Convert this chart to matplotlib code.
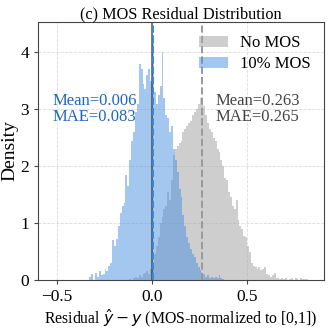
import numpy as np
import matplotlib
matplotlib.use("Agg")
from matplotlib import pyplot as plt

# histogram densities, bin width 0.01
bin_width = 0.01

blue_start = -0.33
blue_density = [
    0.05, 0.10, 0.00, 0.12, 0.05, 0.15, 0.08, 0.10, 0.20, 0.15,
    0.25, 0.30, 0.70, 0.60, 0.72, 0.95, 1.17, 1.30, 1.35, 1.84,
    1.65, 2.10, 2.45, 2.60, 2.95, 3.10, 3.80, 3.70, 3.45, 3.35,
    3.60, 3.70, 3.50, 4.30, 3.30, 3.10, 3.25, 3.40, 4.00, 3.20,
    2.90, 2.85, 2.60, 2.70, 2.30, 2.10, 1.90, 1.60, 1.45, 1.15,
    0.95, 0.75, 0.65, 0.55, 0.45, 0.40, 0.30, 0.22, 0.18, 0.10,
    0.10, 0.06, 0.08, 0.04, 0.05, 0.03, 0.05, 0.03, 0.08, 0.03,
    0.02,
]

gray_start = -0.12
gray_density = [
    0.02, 0.00, 0.03, 0.05, 0.03, 0.08, 0.05, 0.10, 0.12, 0.15,
    0.10, 0.20, 0.30, 0.45, 0.60, 0.75, 1.00, 1.10, 1.25, 1.30,
    1.55, 1.40, 1.75, 2.20, 2.30, 2.35, 2.40, 2.45, 2.60, 2.65,
    2.70, 2.75, 2.80, 2.90, 2.95, 3.00, 3.10, 3.20, 3.15, 3.05,
    2.90, 2.75, 2.65, 2.60, 2.50, 2.45, 2.30, 2.25, 2.10, 2.00,
    1.80, 1.75, 1.55, 1.45, 1.30, 1.25, 1.40, 1.05, 0.95, 0.90,
    0.78, 0.75, 0.60, 0.50, 0.30, 0.25, 0.22, 0.20, 0.22, 0.18,
    0.20, 0.22, 0.10, 0.08, 0.05, 0.08, 0.12, 0.04, 0.03, 0.02,
    0.03, 0.02, 0.03, 0.00, 0.02, 0.03, 0.00, 0.03, 0.02, 0.00,
    0.03, 0.02, 0.02, 0.01,
]

labels = ["No MOS", "10% MOS"]
means = [0.263, 0.006]
maes = [0.265, 0.083]

plt.rcParams["font.family"] = ["Liberation Serif", "DejaVu Serif"]

fig = plt.figure(figsize=(3.29, 3.30), dpi=100)
ax = fig.add_axes([0.1155, 0.1515, 0.8695, 0.7815])

gray_edges = gray_start + bin_width * np.arange(len(gray_density))
blue_edges = blue_start + bin_width * np.arange(len(blue_density))

ax.bar(gray_edges, gray_density, width=bin_width, align="edge",
       color="#a6a6a6", alpha=0.55, linewidth=0, label=labels[0])
ax.bar(blue_edges, blue_density, width=bin_width, align="edge",
       color="#4a90e2", alpha=0.5, linewidth=0, label=labels[1])

ax.axvline(0.0, color="#333333", alpha=0.7, linewidth=1.3)
ax.axvline(means[1], color="#3a86d6", linestyle="--", linewidth=1.4)
ax.axvline(means[0], color="#999999", linestyle="--", linewidth=1.4)

ax.text(-0.525, 3.0, f"Mean={means[1]:.3f}\nMAE={maes[1]:.3f}",
        color="#1f66c4", fontsize=12, va="center", ha="left", linespacing=1.0)
ax.text(0.335, 3.0, f"Mean={means[0]:.3f}\nMAE={maes[0]:.3f}",
        color="#444444", fontsize=12, va="center", ha="left", linespacing=1.0)

ax.set_xlim(-0.6, 0.905)
ax.set_ylim(0, 4.53)
ax.set_xticks([-0.5, 0.0, 0.5])
ax.set_yticks([0, 1, 2, 3, 4])
ax.tick_params(labelsize=12.5, length=3, color="#444444")
ax.grid(True, linestyle="--", color="#dddddd", linewidth=0.6)
ax.set_axisbelow(True)
for s in ax.spines.values():
    s.set_color("#444444")

ax.set_title("(c) MOS Residual Distribution", fontsize=11.7, pad=3)
ax.set_xlabel(r"Residual $\hat{y} - y$ (MOS-normalized to [0,1])", fontsize=11.3, labelpad=2)
ax.set_ylabel("Density", fontsize=14)
ax.yaxis.set_label_coords(-0.07, 0.5)

ax.legend(loc="upper right", frameon=False, fontsize=12,
          handlelength=1.7, handleheight=0.7, handletextpad=0.75,
          borderaxespad=0.4, labelspacing=0.3)

fig.savefig("out.png", dpi=100)
